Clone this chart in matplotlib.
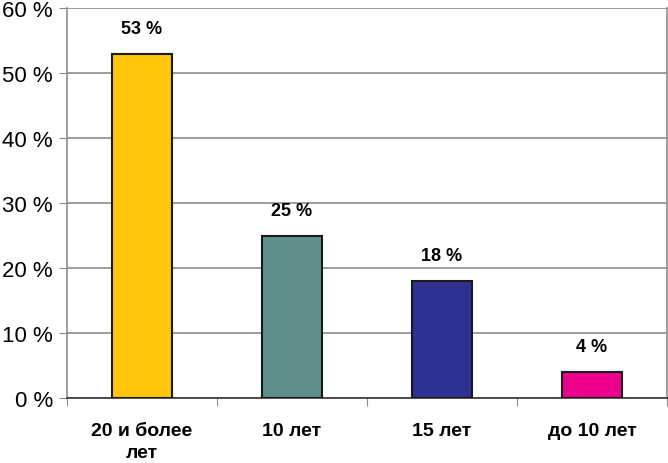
import matplotlib.pyplot as plt
import numpy as np

categories = ["20 и более\nлет", "10 лет", "15 лет", "до 10 лет"]
values = [53, 25, 18, 4]
colors = ["#FFC60B", "#5F8F8A", "#2E3192", "#EC008C"]
yticks = [0, 10, 20, 30, 40, 50, 60]

plt.rcParams['font.family'] = ['Liberation Sans', 'DejaVu Sans']

fig = plt.figure(figsize=(6.68, 4.64), dpi=100)
ax = fig.add_axes([67 / 668, 1 - 399 / 464, 600 / 668, 390 / 464])

x = np.arange(len(values))
ax.bar(x, values, width=0.4, color=colors, edgecolor="#1a1a1a", linewidth=1.5, zorder=3)
for xi, v in zip(x, values):
    ax.text(xi, v + 2.6, f"{v} %", ha="center", va="bottom", fontsize=13, fontweight="bold")

ax.set_xlim(-0.5, len(values) - 0.5)
ax.set_ylim(0, 60)
ax.set_yticks(yticks)
ax.set_yticklabels([f"{t} %" for t in yticks], fontsize=16)
ax.yaxis.grid(True, color="#8c8c8c", linewidth=1.2, zorder=0)

ax.set_xticks(np.arange(len(values) + 1) - 0.5, minor=False)
ax.set_xticklabels([])
ax.set_xticks(x, minor=True)
ax.set_xticklabels(categories, minor=True, fontsize=14, fontweight="bold", linespacing=1.4)
ax.tick_params(axis="x", which="minor", length=0, pad=17)
ax.tick_params(axis="x", which="major", length=6, color="#8c8c8c")
ax.tick_params(axis="y", length=6, color="#8c8c8c", pad=4)

for side in ["left", "right", "top"]:
    ax.spines[side].set_color("#8c8c8c")
    ax.spines[side].set_linewidth(1.2)
ax.spines["top"].set_visible(False)
ax.spines["bottom"].set_color("#333333")
ax.spines["bottom"].set_linewidth(1.2)

fig.savefig("out.png", dpi=100)
